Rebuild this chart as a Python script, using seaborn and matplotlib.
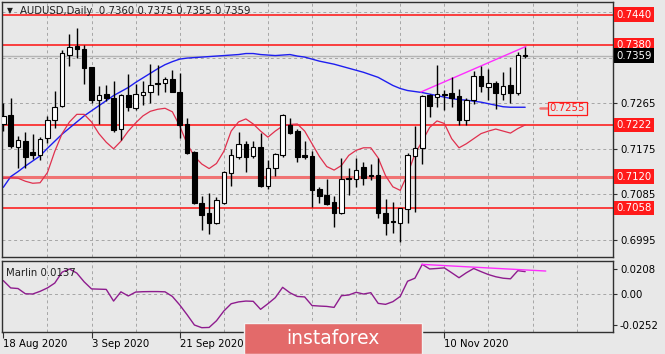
import numpy as np
import pandas as pd
import seaborn as sns
import matplotlib.pyplot as plt
from matplotlib.patches import Rectangle

sns.set_theme(style="ticks")
plt.rcParams['font.family'] = ['DejaVu Sans']

# daily candles, 18 Aug 2020 .. 25 Nov 2020
opens = [0.7224, 0.7242, 0.7179, 0.7191, 0.7169, 0.7163, 0.7197, 0.7232, 0.7259, 0.7361,
         0.7378, 0.7371, 0.7337, 0.7271, 0.7283, 0.7275, 0.7214, 0.7281, 0.7255, 0.7281,
         0.7287, 0.7304, 0.7304, 0.7312, 0.7287, 0.7224, 0.7169, 0.7069, 0.7048, 0.7028,
         0.7069, 0.7128, 0.7159, 0.7185, 0.7161, 0.7179, 0.7101, 0.7138, 0.7163, 0.7222,
         0.7210, 0.7162, 0.7161, 0.7095, 0.7083, 0.7071, 0.7048, 0.7118, 0.7116, 0.7140,
         0.7124, 0.7124, 0.7048, 0.7032, 0.7028, 0.7056, 0.7161, 0.7177, 0.7281, 0.7277,
         0.7284, 0.7285, 0.7279, 0.7232, 0.7271, 0.7318, 0.7296, 0.7304, 0.7283, 0.7300,
         0.7285, 0.7360]
highs = [0.7265, 0.7275, 0.7200, 0.7208, 0.7204, 0.7198, 0.7240, 0.7290, 0.7369, 0.7402,
         0.7414, 0.7380, 0.7337, 0.7298, 0.7300, 0.7308, 0.7283, 0.7322, 0.7302, 0.7308,
         0.7343, 0.7341, 0.7316, 0.7330, 0.7324, 0.7236, 0.7171, 0.7081, 0.7087, 0.7079,
         0.7132, 0.7175, 0.7208, 0.7191, 0.7191, 0.7206, 0.7152, 0.7167, 0.7244, 0.7236,
         0.7214, 0.7191, 0.7171, 0.7099, 0.7116, 0.7081, 0.7157, 0.7138, 0.7157, 0.7148,
         0.7146, 0.7157, 0.7075, 0.7071, 0.7058, 0.7167, 0.7220, 0.7281, 0.7283, 0.7341,
         0.7292, 0.7316, 0.7294, 0.7275, 0.7328, 0.7339, 0.7332, 0.7308, 0.7326, 0.7337,
         0.7367, 0.7375]
lows = [0.7210, 0.7177, 0.7138, 0.7138, 0.7155, 0.7153, 0.7187, 0.7216, 0.7257, 0.7339,
        0.7355, 0.7302, 0.7265, 0.7224, 0.7269, 0.7208, 0.7193, 0.7249, 0.7251, 0.7261,
        0.7265, 0.7281, 0.7287, 0.7287, 0.7197, 0.7165, 0.7067, 0.7015, 0.7007, 0.7026,
        0.7067, 0.7101, 0.7155, 0.7130, 0.7157, 0.7099, 0.7095, 0.7122, 0.7159, 0.7204,
        0.7148, 0.7155, 0.7060, 0.7069, 0.7065, 0.7020, 0.7046, 0.7083, 0.7099, 0.7103,
        0.7114, 0.7038, 0.7005, 0.7009, 0.6991, 0.7028, 0.7050, 0.7146, 0.7238, 0.7257,
        0.7251, 0.7257, 0.7222, 0.7222, 0.7263, 0.7287, 0.7271, 0.7253, 0.7271, 0.7265,
        0.7281, 0.7355]
closes = [0.7240, 0.7181, 0.7193, 0.7159, 0.7163, 0.7195, 0.7232, 0.7257, 0.7365, 0.7375,
          0.7371, 0.7335, 0.7271, 0.7281, 0.7275, 0.7212, 0.7281, 0.7257, 0.7283, 0.7288,
          0.7300, 0.7302, 0.7312, 0.7288, 0.7222, 0.7167, 0.7069, 0.7044, 0.7028, 0.7073,
          0.7130, 0.7163, 0.7185, 0.7159, 0.7179, 0.7101, 0.7138, 0.7165, 0.7242, 0.7206,
          0.7159, 0.7159, 0.7093, 0.7081, 0.7067, 0.7048, 0.7116, 0.7116, 0.7134, 0.7118,
          0.7122, 0.7048, 0.7028, 0.7030, 0.7058, 0.7163, 0.7177, 0.7279, 0.7259, 0.7283,
          0.7282, 0.7275, 0.7232, 0.7271, 0.7318, 0.7298, 0.7304, 0.7285, 0.7298, 0.7285,
          0.7361, 0.7359]

ma_blue = [0.7099, 0.7120, 0.7130, 0.7141, 0.7151, 0.7161, 0.7176, 0.7190, 0.7204, 0.7216,
           0.7228, 0.7240, 0.7250, 0.7260, 0.7270, 0.7280, 0.7288, 0.7296, 0.7306, 0.7315,
           0.7324, 0.7333, 0.7341, 0.7347, 0.7352, 0.7354, 0.7355, 0.7356, 0.7357, 0.7358,
           0.7359, 0.7360, 0.7361, 0.7363, 0.7363, 0.7361, 0.7360, 0.7359, 0.7360, 0.7361,
           0.7358, 0.7356, 0.7352, 0.7348, 0.7345, 0.7342, 0.7338, 0.7334, 0.7330, 0.7326,
           0.7321, 0.7316, 0.7308, 0.7300, 0.7294, 0.7290, 0.7288, 0.7286, 0.7283, 0.7280,
           0.7277, 0.7274, 0.7272, 0.7271, 0.7269, 0.7267, 0.7264, 0.7261, 0.7258, 0.7257,
           0.7257, 0.7257]
ma_red = [0.7117, 0.7118, 0.7117, 0.7111, 0.7107, 0.7108, 0.7128, 0.7170, 0.7205, 0.7228,
          0.7243, 0.7243, 0.7228, 0.7205, 0.7188, 0.7175, 0.7190, 0.7210, 0.7226, 0.7240,
          0.7249, 0.7253, 0.7255, 0.7248, 0.7220, 0.7185, 0.7160, 0.7145, 0.7136, 0.7146,
          0.7170, 0.7210, 0.7228, 0.7234, 0.7224, 0.7210, 0.7198, 0.7210, 0.7220, 0.7223,
          0.7224, 0.7210, 0.7185, 0.7160, 0.7140, 0.7133, 0.7142, 0.7162, 0.7172, 0.7177,
          0.7177, 0.7157, 0.7122, 0.7100, 0.7093, 0.7125, 0.7165, 0.7190, 0.7217, 0.7230,
          0.7225, 0.7195, 0.7177, 0.7185, 0.7195, 0.7205, 0.7210, 0.7214, 0.7210, 0.7206,
          0.7215, 0.7222]
marlin = [0.0110, 0.0050, 0.0045, 0.0002, 0.0000, 0.0022, 0.0050, 0.0090, 0.0180, 0.0206,
          0.0172, 0.0100, 0.0042, 0.0040, 0.0038, -0.0058, 0.0018, -0.0016, 0.0016, 0.0019,
          0.0020, 0.0020, 0.0018, -0.0020, -0.0090, -0.0170, -0.0255, -0.0277, -0.0275, -0.0220,
          -0.0140, -0.0080, -0.0065, -0.0058, -0.0060, -0.0126, -0.0080, -0.0030, 0.0055, 0.0010,
          -0.0020, -0.0024, -0.0095, -0.0099, -0.0102, -0.0110, -0.0014, -0.0008, 0.0014, 0.0000,
          0.0011, -0.0077, -0.0085, -0.0063, -0.0020, 0.0105, 0.0130, 0.0244, 0.0206, 0.0210,
          0.0215, 0.0175, 0.0134, 0.0175, 0.0210, 0.0184, 0.0160, 0.0142, 0.0130, 0.0125,
          0.0192, 0.0184]

levels = [0.7440, 0.7380, 0.7222, 0.7120, 0.7058]
price_ticks = [0.6995, 0.7085, 0.7175, 0.7265, 0.7355, 0.7445]
price_tick_labels = ['0.6995', '0.7085', '0.7175', '0.7265', '', '']  # top two sit under boxes
osc_ticks = [0.0208, 0.0, -0.0252]
osc_tick_labels = ['0.0208', '0.00', '-0.0252']
date_bars = [0, 12, 24, 60]
date_labels = ['18 Aug 2020', '3 Sep 2020', '21 Sep 2020', '10 Nov 2020']
trend_bars = [56.8, 71.1]
trend_price = [0.7287, 0.7377]
osc_trend_bars = [56.9, 73.8]
osc_trend_vals = [0.0244, 0.0189]
target_price = 0.7255
last_price = 0.7359

bg = '#E8E8E8'
W, H = 665, 354
fig = plt.figure(figsize=(W / 100, H / 100), dpi=100, facecolor=bg)
ax = fig.add_axes([2 / W, 1 - 257.3 / H, 611 / W, 255.3 / H], facecolor=bg)
ax2 = fig.add_axes([2 / W, 1 - 331.7 / H, 611 / W, 71 / H], facecolor=bg)

df = pd.DataFrame({'bar': np.arange(len(opens)), 'open': opens, 'high': highs,
                   'low': lows, 'close': closes, 'ma_blue': ma_blue,
                   'ma_red': ma_red, 'marlin': marlin})
xlim = (-0.18, 82.95)
grid_kw = dict(color='#A5A5A5', linestyle=(0, (3, 3)), linewidth=0.7)

# ---- price panel
for a in (ax, ax2):
    a.set_xlim(*xlim)
    for s in a.spines.values():
        s.set_color('#303030')
        s.set_linewidth(1)
ax.set_ylim(0.69609, 0.74647)
grid_bars = np.arange(6, 83, 6)
for gb in grid_bars:
    ax.axvline(gb, zorder=0.5, **grid_kw)
    ax2.axvline(gb, zorder=0.5, **grid_kw)
for pt in price_ticks:
    ax.axhline(pt, zorder=0.5, **grid_kw)

ax.axhline(last_price, color='#B4B4B4', lw=1, zorder=0.8)
for lv in levels:
    if lv == 0.7120:
        ax.axhline(lv, color='#F07272', lw=2.2, zorder=1)
    else:
        ax.axhline(lv, color='#FF1010', lw=1.1, zorder=1)

sns.lineplot(data=df, x='bar', y='ma_blue', ax=ax, color='#1E1EF0', lw=1, zorder=2)
sns.lineplot(data=df, x='bar', y='ma_red', ax=ax, color='#E0304E', lw=0.9, zorder=2)
sns.lineplot(x=trend_bars, y=trend_price, ax=ax, color='#FF2CFF', lw=1, zorder=2)

up = df['close'] >= df['open']
ax.vlines(df['bar'], df['low'], df['high'], color='black', lw=1, zorder=3)
body = (df['close'] - df['open']).abs().clip(lower=0.00006)
ax.bar(df['bar'], body, bottom=df[['open', 'close']].min(axis=1), width=0.62,
       color=np.where(up, 'white', 'black'), edgecolor='black', linewidth=0.8, zorder=4)

ax.set_xlabel('')
ax.set_ylabel('')
ax.set_xticks(grid_bars)
ax.tick_params(axis='x', bottom=False, labelbottom=False)
ax.yaxis.tick_right()
ax.set_yticks(price_ticks)
ax.set_yticklabels(price_tick_labels)
ax.tick_params(axis='y', right=True, length=3, width=0.8, color='#303030', pad=2,
               labelsize=7.3, labelcolor='black')

ytr = ax.get_yaxis_transform()
for lv in levels:
    ax.text(1.006, lv, f'{lv:.4f}', transform=ytr, ha='left', va='center', fontsize=7.3,
            color='white', clip_on=False, zorder=10,
            bbox=dict(boxstyle='square,pad=0.22', fc='#FF1A1A', ec='none'))
ax.text(1.006, last_price, f'{last_price:.4f}', transform=ytr, ha='left', va='center',
        fontsize=7.3, color='white', clip_on=False, zorder=10,
        bbox=dict(boxstyle='square,pad=0.22', fc='black', ec='none'))

# target label to the right of the last bar
ax.plot([73.0, 74.2], [target_price, target_price], color='#F07272', lw=1.8, zorder=2)
ax.text(74.35, target_price, f'{target_price:.4f}', ha='left', va='center', fontsize=7.3,
        color='#FF1A1A', zorder=5,
        bbox=dict(boxstyle='square,pad=0.15', fc=bg, ec='#FF1A1A', lw=0.9))

fig.text(7 / W, 1 - 11 / H, '\u25bc', fontsize=5.5, va='center', ha='left', color='#202020')
fig.text(20 / W, 1 - 11 / H, 'AUDUSD,Daily  0.7360 0.7375 0.7355 0.7359', fontsize=7.3,
         va='center', ha='left', color='#202020')

# ---- Marlin panel
ax2.set_ylim(-0.0310, 0.0274)
ax2.axhline(0, zorder=0.5, **grid_kw)
sns.lineplot(data=df, x='bar', y='marlin', ax=ax2, color='#8E1C8E', lw=1, zorder=2)
sns.lineplot(x=osc_trend_bars, y=osc_trend_vals, ax=ax2, color='#FF2CFF', lw=1, zorder=3)
ax2.set_xlabel('')
ax2.set_ylabel('')
ax2.yaxis.tick_right()
ax2.set_yticks(osc_ticks)
ax2.set_yticklabels(osc_tick_labels)
ax2.tick_params(axis='y', right=True, length=3, width=0.8, color='#303030', pad=2,
                labelsize=7.3, labelcolor='black')
ax2.set_xticks(date_bars)
ax2.set_xticklabels(date_labels, ha='left')
ax2.tick_params(axis='x', bottom=True, length=4, width=0.8, color='#303030', pad=1.5,
                labelsize=7.3, labelcolor='black')
ax2.text(0.006, 0.83, 'Marlin 0.0137', transform=ax2.transAxes, fontsize=7.3,
         ha='left', va='center', color='#202020')

# watermark box
fig.patches.append(Rectangle((244 / W, 0), 178 / W, 31 / H, transform=fig.transFigure,
                             fc='#E36A6A', ec='#F2F2F2', lw=1, zorder=20))
fig.text(333 / W, 1 - 338 / H, 'instaforex', fontsize=13.5, color='white',
         ha='center', va='center', zorder=21)

fig.savefig('out.png', dpi=100, facecolor=bg)
